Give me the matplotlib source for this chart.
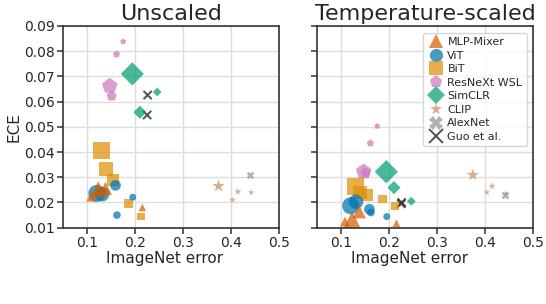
import matplotlib
matplotlib.use("Agg")
import matplotlib.pyplot as plt
from matplotlib.lines import Line2D

# ImageNet error (x) and ECE (y) per model family
mixer_err = [0.108, 0.123, 0.138, 0.215]
mixer_unscaled = [0.0223, 0.0252, 0.0256, 0.0180]
mixer_scaled = [0.0124, 0.0133, 0.0163, 0.0118]
mixer_size = [50, 140, 90, 30]

vit_err = [0.120, 0.131, 0.159, 0.162, 0.195]
vit_unscaled = [0.0236, 0.0233, 0.0268, 0.0150, 0.0221]
vit_scaled = [0.0187, 0.0203, 0.0173, 0.0160, 0.0144]
vit_size = [150, 110, 60, 30, 25]

bit_err = [0.130, 0.139, 0.154, 0.186, 0.212]
bit_unscaled = [0.0405, 0.0332, 0.0289, 0.0195, 0.0145]
bit_scaled = [0.0263, 0.0239, 0.0230, 0.0214, 0.0187]
bit_size = [150, 95, 70, 40, 30]

wsl_err = [0.147, 0.151, 0.161, 0.175]
wsl_unscaled = [0.0662, 0.0622, 0.0788, 0.0838]
wsl_scaled = [0.0322, 0.0318, 0.0435, 0.0503]
wsl_size = [140, 60, 30, 20]

simclr_err = [0.194, 0.210, 0.246]
simclr_unscaled = [0.0710, 0.0558, 0.0638]
simclr_scaled = [0.0322, 0.0259, 0.0205]
simclr_size = [140, 45, 20]

clip_err = [0.374, 0.403, 0.414, 0.442]
clip_unscaled = [0.0265, 0.0210, 0.0243, 0.0240]
clip_scaled = [0.0309, 0.0240, 0.0265, 0.0234]
clip_size = [90, 25, 30, 25]

alexnet_err = [0.440]
alexnet_unscaled = [0.0309]
alexnet_scaled = [0.0228]
alexnet_size = [30]

guo_err = [0.226, 0.225]
guo_unscaled = [0.0626, 0.0547]
guo_scaled = [0.0200, 0.0195]
guo_size = [35, 35]

titles = ["Unscaled", "Temperature-scaled"]
x_ticks = [0.1, 0.2, 0.3, 0.4, 0.5]
y_ticks = [0.01, 0.02, 0.03, 0.04, 0.05, 0.06, 0.07, 0.08, 0.09]

# name, marker, colour, x, y unscaled, y scaled, sizes (drawn bottom to top)
families = [
    ("Guo et al.", "x", "#333333", guo_err, guo_unscaled, guo_scaled, guo_size),
    ("AlexNet", "X", "#949494", alexnet_err, alexnet_unscaled, alexnet_scaled, alexnet_size),
    ("CLIP", "*", "#CA9161", clip_err, clip_unscaled, clip_scaled, clip_size),
    ("SimCLR", "D", "#029E73", simclr_err, simclr_unscaled, simclr_scaled, simclr_size),
    ("ResNeXt WSL", "p", "#CC78BC", wsl_err, wsl_unscaled, wsl_scaled, wsl_size),
    ("BiT", "s", "#DE8F05", bit_err, bit_unscaled, bit_scaled, bit_size),
    ("ViT", "o", "#0173B2", vit_err, vit_unscaled, vit_scaled, vit_size),
    ("MLP-Mixer", "^", "#D55E00", mixer_err, mixer_unscaled, mixer_scaled, mixer_size),
]

plt.rcParams["font.family"] = "DejaVu Sans"
text_col = "#262626"

fig = plt.figure(figsize=(5.46, 3.04), dpi=100)
ax1 = fig.add_axes([0.1159, 0.251, 0.395, 0.6635])
ax2 = fig.add_axes([0.5806, 0.251, 0.3965, 0.6635], sharey=ax1)

for i, ax in enumerate([ax1, ax2]):
    ax.set_axisbelow(True)
    ax.grid(True, color="#dddddd", linewidth=1.0)
    for name, mk, col, xs, yu, ys, sz in families:
        yv = yu if i == 0 else ys
        if mk == "x":
            ax.scatter(xs, yv, s=sz, marker=mk, color=col, alpha=0.85, linewidths=1.4)
        else:
            ax.scatter(xs, yv, s=sz, marker=mk, color=col, alpha=0.72, linewidths=0)
    ax.set_xlim(0.05, 0.5)
    ax.set_ylim(0.01, 0.09)
    ax.set_xticks(x_ticks)
    ax.set_xticklabels(["%.1f" % t for t in x_ticks])
    ax.set_yticks(y_ticks)
    ax.set_title(titles[i], fontsize=16, color=text_col, pad=4)
    ax.set_xlabel("ImageNet error", fontsize=11, color=text_col)
    ax.tick_params(labelsize=10, colors="#333333", labelcolor=text_col,
                   length=4, width=1.1, pad=2)
    for sp in ax.spines.values():
        sp.set_color("#333333")
        sp.set_linewidth(1.2)

# the x labels sit a little left of the axes centre in the original
ax1.xaxis.set_label_coords(0.468, -0.115)
ax2.xaxis.set_label_coords(0.428, -0.115)

ax1.set_yticklabels(["%.2f" % t for t in y_ticks])
ax1.set_ylabel("ECE", fontsize=11, color=text_col, labelpad=2)
ax2.tick_params(labelleft=False)

handles = []
for name, mk, col, *_ in families[::-1]:
    if mk == "x":
        h = Line2D([], [], linestyle="none", marker=mk, color=col, markersize=9.5,
                   markeredgewidth=1.4, alpha=0.85)
    else:
        h = Line2D([], [], linestyle="none", marker=mk, color=col, markersize=9.5,
                   markeredgewidth=0, alpha=0.72)
    handles.append(h)
ax2.legend(handles, [f[0] for f in families[::-1]], loc="upper right", fontsize=8,
           labelspacing=0.32, handlelength=1.4, handletextpad=0.35, borderpad=0.4,
           borderaxespad=0.6, edgecolor="#cccccc", labelcolor=text_col)

# top of the page caption, cut off by the crop
fig.text(0.0, -0.067, "Figure 2: Temperature scaling", fontsize=20,
         family="Liberation Serif", color="#222222", va="baseline")

fig.savefig("out.png", dpi=100)
